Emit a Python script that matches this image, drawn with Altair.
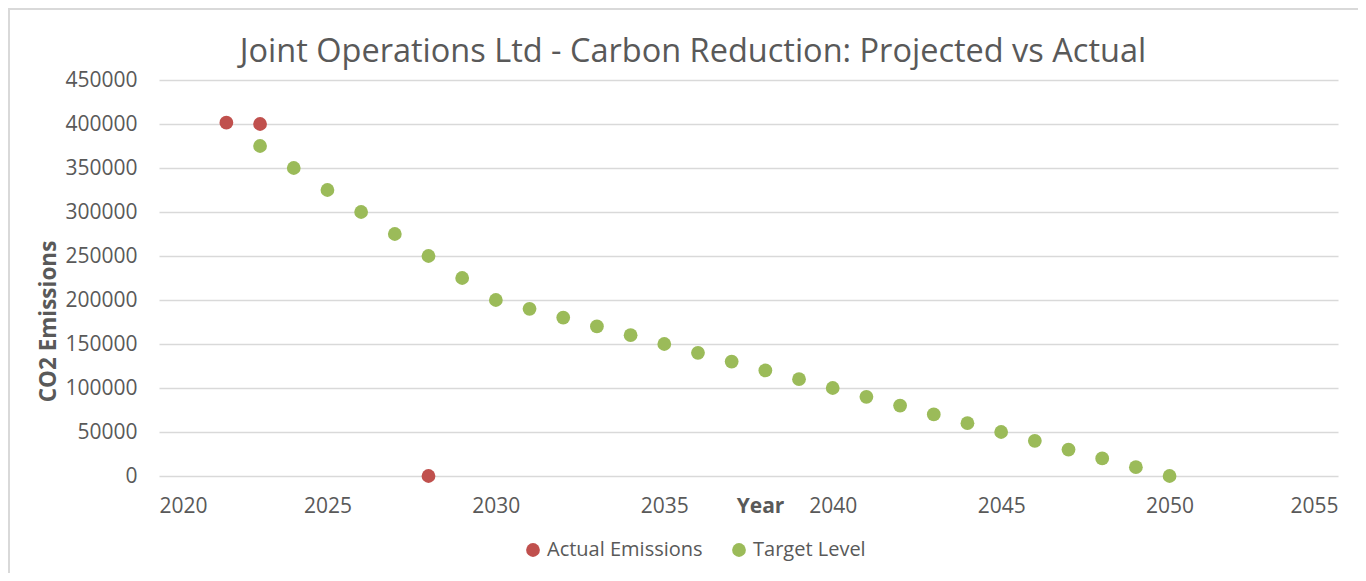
import altair as alt
import pandas as pd

# ---- data ----
actual_years = [2022, 2023, 2028]
actual_values = [401500, 400000, 0]

target_years = list(range(2023, 2051))
target_values = [375000, 350000, 325000, 300000, 275000, 250000, 225000, 200000,
                 190000, 180000, 170000, 160000, 150000, 140000, 130000, 120000,
                 110000, 100000, 90000, 80000, 70000, 60000, 50000, 40000,
                 30000, 20000, 10000, 0]

series_names = ["Actual Emissions", "Target Level"]
series_colors = ["#C0504D", "#9BBB59"]
x_ticks = [2020, 2025, 2030, 2035, 2040, 2045, 2050, 2055]
y_ticks = [0, 50000, 100000, 150000, 200000, 250000, 300000, 350000, 400000, 450000]
chart_title = "Joint Operations Ltd - Carbon Reduction: Projected vs Actual"

df = pd.concat([
    pd.DataFrame({"Year": actual_years, "CO2": actual_values, "Series": series_names[0]}),
    pd.DataFrame({"Year": target_years, "CO2": target_values, "Series": series_names[1]}),
])

FONT = "Open Sans"
GREY = "#595959"

points = alt.Chart(df).mark_circle(size=190, opacity=1).encode(
    x=alt.X("Year:Q",
            scale=alt.Scale(domain=[2020, 2055], nice=False, zero=False),
            axis=alt.Axis(values=x_ticks, format="d", title="Year",
                          grid=False, domain=False, ticks=False,
                          labelFontSize=21, labelColor=GREY, labelFont=FONT,
                          labelPadding=19,
                          titleFontSize=21, titleFontWeight="bold", titleColor=GREY,
                          titleFont=FONT, titleX=601, titleY=30,
                          titleBaseline="middle", titleAlign="center")),
    y=alt.Y("CO2:Q",
            scale=alt.Scale(domain=[0, 450000], nice=False),
            axis=alt.Axis(values=y_ticks, format="d", title="CO2 Emissions",
                          grid=True, gridColor="#D9D9D9", gridWidth=1.5,
                          domain=False, ticks=False,
                          labelFontSize=21, labelColor=GREY, labelFont=FONT,
                          labelPadding=22,
                          titleFontSize=22.5, titleFontWeight="bold", titleColor=GREY,
                          titleFont=FONT, titleX=-111, titleY=241,
                          titleAngle=-90, titleBaseline="middle",
                          titleAlign="center")),
    color=alt.Color("Series:N",
                    scale=alt.Scale(domain=series_names, range=series_colors),
                    legend=alt.Legend(title=None, orient="none", direction="horizontal",
                                      legendX=364, legendY=460,
                                      symbolType="circle", symbolSize=190,
                                      labelFontSize=20, labelColor=GREY, labelFont=FONT,
                                      columnPadding=26, labelOffset=4)),
)

# light grey chart frame (Excel chart-area border)
frame = alt.Chart(pd.DataFrame({"k": [0]})).mark_rect(
    fill=None, stroke="#D9D9D9", strokeWidth=2
).encode(
    x=alt.value(-150), x2=alt.value(1400),
    y=alt.value(-71), y2=alt.value(700),
)

# chart title drawn as a text mark so it sits at the Excel position
title = alt.Chart(pd.DataFrame({"t": [chart_title]})).mark_text(
    font=FONT, fontSize=32.5, color=GREY, align="center", baseline="middle"
).encode(
    text="t:N",
    x=alt.value(534), y=alt.value(-28),
)

chart = alt.layer(frame, title, points).properties(
    width=1179,
    height=396,
    autosize=alt.AutoSizeParams(type="none"),
    padding={"left": 151, "top": 72, "right": 20, "bottom": 97},
).configure_view(stroke=None)

chart.save("out.html", embed_options={"renderer": "svg", "actions": False})
